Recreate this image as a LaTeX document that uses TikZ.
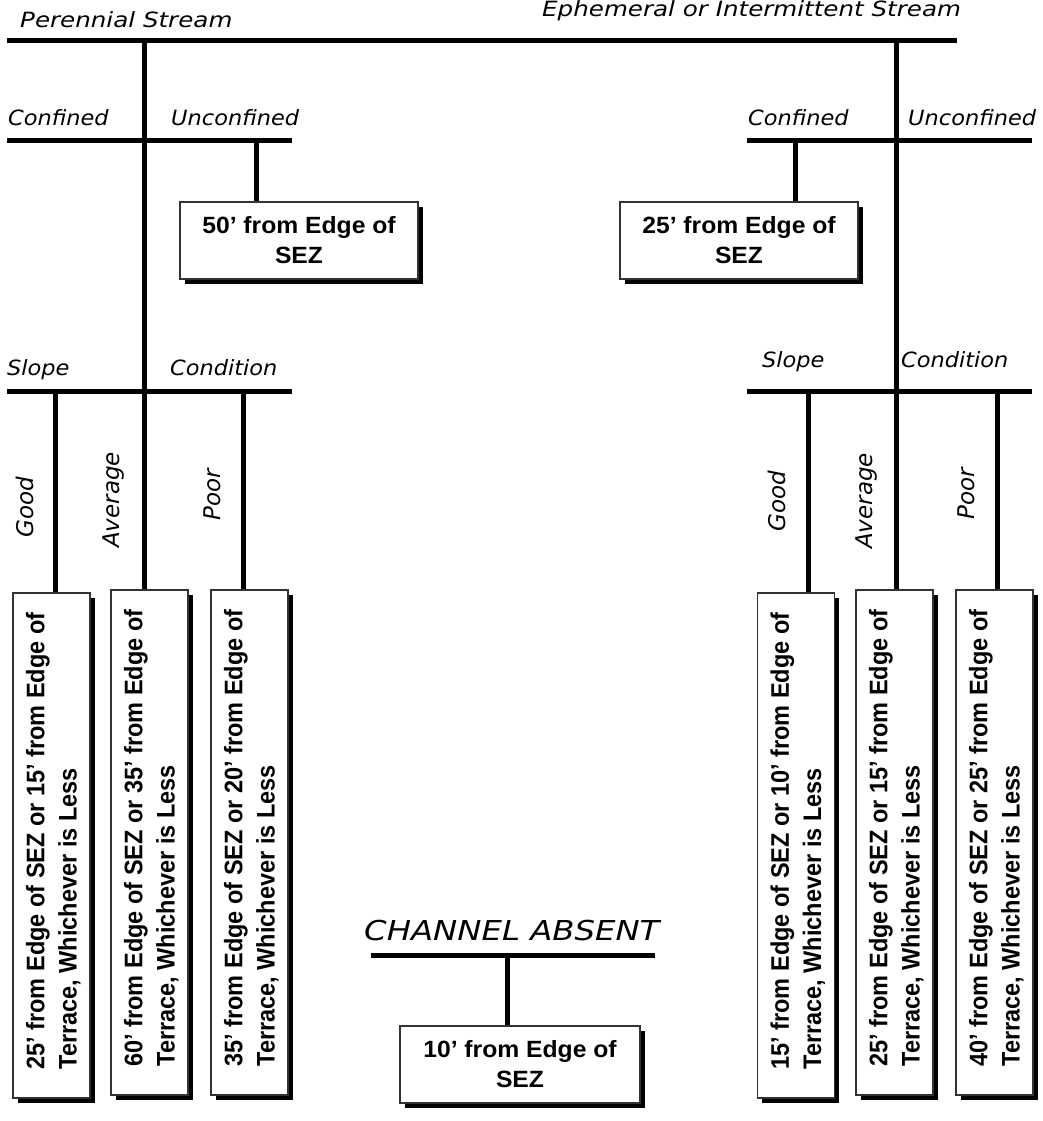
\documentclass[tikz,border=0pt]{standalone}
\usepackage{graphicx}
\usepackage{fontspec}
\setmainfont{Liberation Sans}
\newfontfamily\labfont[FakeStretch=1.07]{DejaVu Sans}
\newfontfamily\toplabfont[FakeStretch=1.17]{DejaVu Sans}
\newfontfamily\biglabfont[FakeStretch=1.18]{DejaVu Sans}
\newfontfamily\rlabfont{DejaVu Sans}
\newfontfamily\hfont{Liberation Sans}
\newfontfamily\hfontw[FakeStretch=1.05]{Liberation Sans}
\usetikzlibrary{shadows}
\begin{document}
\begin{tikzpicture}[x=1pt,y=-1pt,
  conn/.style={line width=5pt},
  lab/.style={font=\labfont\itshape\fontsize{21}{25}\selectfont, inner sep=0pt, anchor=base west},
  toplab/.style={lab, font=\toplabfont\itshape\fontsize{21}{25}\selectfont},
  biglab/.style={lab, font=\biglabfont\itshape\fontsize{27.4}{32}\selectfont},
  rlab/.style={font=\rlabfont\itshape\fontsize{23}{27}\selectfont, inner sep=0pt, rotate=90},
  bigbox/.style={draw=black!80, line width=1.5pt, fill=white, inner sep=0pt,
     drop shadow={shadow xshift=4.5pt, shadow yshift=-4.5pt, opacity=1, fill=black}},
  hbox/.style={bigbox, minimum width=238pt, minimum height=77pt, align=center,
     font=\hfontw\bfseries\fontsize{23.5}{30}\selectfont},
  vbox/.style={bigbox, minimum width=77pt, minimum height=505pt,
     font=\hfont\bfseries\fontsize{23.5}{30}\selectfont},
]
\useasboundingbox[fill=white] (0,0) rectangle (1042,1121);

% ---------- labels ----------
\node[toplab] (perl) at (20,28) {Perennial Stream};
\node[toplab] (ephl) at (542,17) {Ephemeral or Intermittent Stream};
\node[lab] (confL) at (8,125) {Confined};
\node[lab] (unconfL) at (171,125) {Unconfined};
\node[lab] (confR) at (748,125) {Confined};
\node[lab] (unconfR) at (908,125) {Unconfined};
\node[lab] (slopeL) at (7,375) {Slope};
\node[lab] (condL) at (170,375) {Condition};
\node[lab] (slopeR) at (762,367) {Slope};
\node[lab] (condR) at (901,367) {Condition};
\node[rlab] (goodL) at (25,507) {Good};
\node[rlab] (avgL) at (114,500) {Average};
\node[rlab] (poorL) at (212.5,495) {Poor};
\node[rlab] (goodR) at (777,501) {Good};
\node[rlab] (avgR) at (866,501) {Average};
\node[rlab] (poorR) at (966.5,494) {Poor};
\node[biglab] (chl) at (364,940) {CHANNEL ABSENT};

% ---------- boxes ----------
\node[hbox] (b50) at (299,240.5) {50’ from Edge of\\SEZ};
\node[hbox] (b25) at (739,240.5) {25’ from Edge of\\SEZ};
\node[hbox, minimum width=240pt] (b10) at (520,1064.5) {10’ from Edge of\\SEZ};

\newcommand\vtext[2]{\rotatebox{90}{\hspace{9pt}\raisebox{-2.5pt}[\height][\depth]{\scalebox{1}[1.08]{\begin{tabular}{@{}l@{}}#1\\#2\end{tabular}}}}}
\node[vbox] (g1) at (51.5,845.5) {\vtext{25’ from Edge of SEZ or 15’ from Edge of}{Terrace, Whichever is Less}};
\node[vbox] (a1) at (149.5,842.5) {\vtext{60’ from Edge of SEZ or 35’ from Edge of}{Terrace, Whichever is Less}};
\node[vbox] (p1) at (249.5,842.5) {\vtext{35’ from Edge of SEZ or 20’ from Edge of}{Terrace, Whichever is Less}};
\node[vbox] (g2) at (796,845.5) {\vtext{15’ from Edge of SEZ or 10’ from Edge of}{Terrace, Whichever is Less}};
\node[vbox] (a2) at (894.5,842.5) {\vtext{25’ from Edge of SEZ or 15’ from Edge of}{Terrace, Whichever is Less}};
\node[vbox] (p2) at (994.5,842.5) {\vtext{40’ from Edge of SEZ or 25’ from Edge of}{Terrace, Whichever is Less}};

% ---------- connector coordinates ----------
\coordinate (topA) at (7,40.5);
\coordinate (topB) at (957,40.5);
\coordinate (trL) at (144,40.5);
\coordinate (trR) at (896.5,40.5);
\coordinate (cfLa) at (7,140);
\coordinate (cfLb) at (292,140);
\coordinate (cfRa) at (747,140);
\coordinate (cfRb) at (1032,140);
\coordinate (uL) at (256.5,140);
\coordinate (cR) at (795,140);
\coordinate (slLa) at (7,391);
\coordinate (slLb) at (292,391);
\coordinate (slRa) at (747,391);
\coordinate (slRb) at (1032,391);
\coordinate (jg1) at (55,391);
\coordinate (jp1) at (243.5,391);
\coordinate (jg2) at (808,391);
\coordinate (jp2) at (997,391);
\coordinate (chA) at (371,955);
\coordinate (chB) at (655,955);
\coordinate (chJ) at (507,955);

% ---------- connectors ----------
\draw[conn] (topA) -- (topB);
\draw[conn] (trL) -- (trL |- a1.north);
\draw[conn] (trR) -- (trR |- a2.north);
\draw[conn] (cfLa) -- (cfLb);
\draw[conn] (cfRa) -- (cfRb);
\draw[conn] (uL) -- (uL |- b50.north);
\draw[conn] (cR) -- (cR |- b25.north);
\draw[conn] (slLa) -- (slLb);
\draw[conn] (slRa) -- (slRb);
\draw[conn] (jg1) -- (jg1 |- g1.north);
\draw[conn] (jp1) -- (jp1 |- p1.north);
\draw[conn] (jg2) -- (jg2 |- g2.north);
\draw[conn] (jp2) -- (jp2 |- p2.north);
\draw[conn] (chA) -- (chB);
\draw[conn] (chJ) -- (chJ |- b10.north);
\end{tikzpicture}
\end{document}
